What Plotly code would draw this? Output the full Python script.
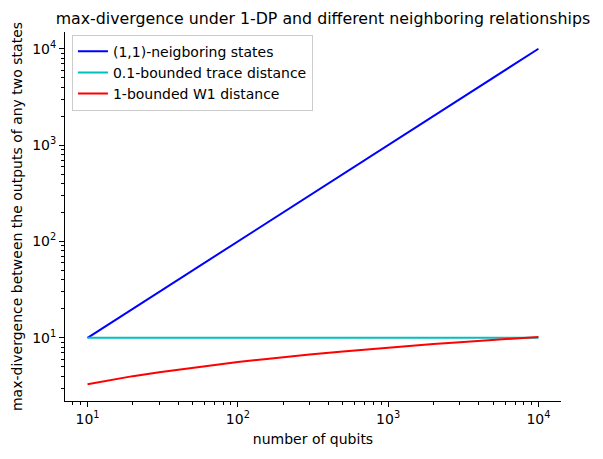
import plotly.graph_objects as go

# number of qubits and the three max-divergence curves
qubits = [10, 15, 20, 30, 50, 70, 100, 150, 200, 300, 500, 700,
          1000, 1500, 2000, 3000, 5000, 7000, 10000]
neighboring = [10, 15, 20, 30, 50, 70, 100, 150, 200, 300, 500, 700,
               1000, 1500, 2000, 3000, 5000, 7000, 10000]
trace_dist = [10] * len(qubits)
w1_dist = [3.3, 3.7, 4.0, 4.4, 4.9, 5.25, 5.6, 6.0, 6.3, 6.7, 7.2, 7.55,
           7.9, 8.3, 8.6, 9.0, 9.5, 9.85, 10.2]

tick_vals = [10, 100, 1000, 10000]
tick_text = ["10<sup>1</sup>", "10<sup>2</sup>", "10<sup>3</sup>", "10<sup>4</sup>"]
decades = [1, 10, 100, 1000, 10000]
minor_vals = [d * k for d in decades for k in range(2, 10)]

font = "DejaVu Sans"

fig = go.Figure()
fig.add_trace(go.Scatter(x=qubits, y=neighboring, mode="lines", name="(1,1)-neigboring states",
                         line=dict(color="#0000ff", width=2)))
fig.add_trace(go.Scatter(x=qubits, y=trace_dist, mode="lines", name="0.1-bounded trace distance",
                         line=dict(color="#00bfbf", width=2)))
fig.add_trace(go.Scatter(x=qubits, y=w1_dist, mode="lines", name="1-bounded W1 distance",
                         line=dict(color="#ff0000", width=2)))

axis_style = dict(type="log", showgrid=False, zeroline=False, showline=True, linecolor="black",
                  linewidth=1, ticks="outside", ticklen=5, tickcolor="black",
                  tickvals=tick_vals, ticktext=tick_text, automargin=False,
                  tickfont=dict(family=font, size=14, color="black"),
                  minor=dict(ticks="outside", ticklen=3, tickcolor="black", showgrid=False,
                             tickvals=minor_vals))

# the page body adds 8px, so margins are shifted to land the axes where the reference has them
fig.update_layout(
    width=603, height=459,
    margin=dict(l=57, r=50, t=24, b=66),
    plot_bgcolor="white", paper_bgcolor="white",
    font=dict(family=font, size=14, color="black"),
    title=dict(text="max-divergence under 1-DP and different neighboring relationships",
               x=0.52, xref="paper", xanchor="center", y=0.978, yref="container", yanchor="middle",
               font=dict(family=font, size=15.8, color="black")),
    xaxis=dict(axis_style, range=[0.85, 4.15],
               title=dict(text="number of qubits", font=dict(family=font, size=14), standoff=8)),
    yaxis=dict(axis_style, range=[0.344, 4.174],
               title=dict(text="max-divergence between the outputs of any two states",
                          font=dict(family=font, size=14), standoff=6)),
    legend=dict(x=0.014, y=0.993, xanchor="left", yanchor="top",
                bgcolor="white", bordercolor="#cccccc", borderwidth=1,
                font=dict(family=font, size=14, color="black")),
)

fig.write_html("out.html")
